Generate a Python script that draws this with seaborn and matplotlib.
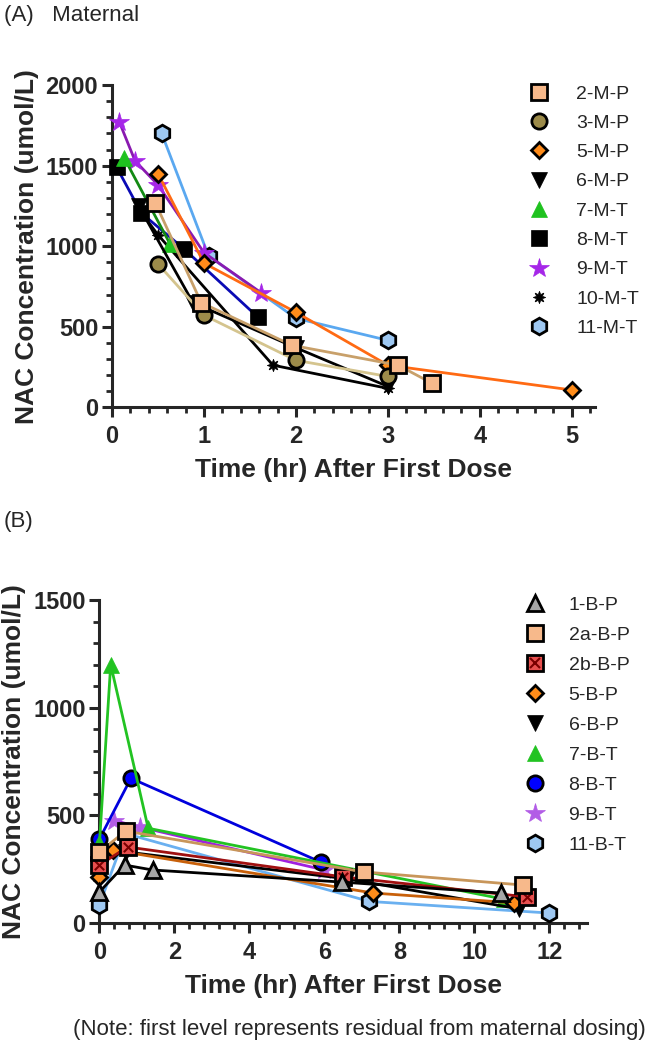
import pandas as pd
import seaborn as sns
import matplotlib.pyplot as plt
from matplotlib.lines import Line2D
from matplotlib.ticker import MultipleLocator

sns.set_theme(style="ticks")
plt.rcParams["font.family"] = ["Liberation Sans", "DejaVu Sans"]

# ---------------- Panel A: maternal levels ----------------
t_2mp = [0.47, 0.97, 1.96, 3.11, 3.48]
c_2mp = [1270, 650, 385, 262, 150]
t_3mp = [0.5, 1.0, 2.0, 3.0]
c_3mp = [890, 572, 292, 192]
t_5mp = [0.5, 1.0, 2.0, 3.0, 5.0]
c_5mp = [1450, 895, 590, 262, 108]
t_6mp = [0.29, 0.88, 2.0, 3.0]
c_6mp = [1250, 650, 370, 130]
t_7mt = [0.13, 0.63]
c_7mt = [1550, 1015]
t_8mt = [0.05, 0.32, 0.78, 1.59]
c_8mt = [1490, 1205, 985, 558]
t_9mt = [0.08, 0.25, 0.5, 1.0, 1.62]
c_9mt = [1770, 1530, 1380, 960, 712]
t_10mt = [0.33, 0.5, 1.75, 3.0]
c_10mt = [1200, 1070, 262, 118]
t_11mt = [0.54, 1.05, 2.0, 3.0]
c_11mt = [1700, 940, 553, 416]

maternal_labels = ["2-M-P", "3-M-P", "5-M-P", "6-M-P", "7-M-T",
                   "8-M-T", "9-M-T", "10-M-T", "11-M-T"]
maternal_t = [t_2mp, t_3mp, t_5mp, t_6mp, t_7mt, t_8mt, t_9mt, t_10mt, t_11mt]
maternal_c = [c_2mp, c_3mp, c_5mp, c_6mp, c_7mt, c_8mt, c_9mt, c_10mt, c_11mt]

# ---------------- Panel B: baby levels ----------------
t_1bp = [0.0, 0.67, 1.42, 6.46, 10.7]
c_1bp = [144, 269, 246, 190, 139]
t_2abp = [0.0, 0.7, 7.05, 11.3]
c_2abp = [330, 427, 237, 176]
t_2bbp = [0.0, 0.75, 6.5, 11.4]
c_2bbp = [269, 353, 214, 121]
t_5bp = [0.0, 0.35, 7.3, 11.07]
c_5bp = [214, 339, 139, 93]
t_6bp = [0.0, 0.7, 6.6, 11.2]
c_6bp = [300, 330, 205, 65]
t_7bt = [0.0, 0.3, 1.3, 10.8]
c_7bt = [370, 1200, 440, 110]
t_8bt = [0.0, 0.84, 5.9]
c_8bt = [390, 672, 283]
t_9bt = [0.4, 1.07, 6.0]
c_9bt = [475, 446, 246]
t_11bt = [0.0, 0.7, 7.2, 12.0]
c_11bt = [84, 415, 100, 46]

baby_labels = ["1-B-P", "2a-B-P", "2b-B-P", "5-B-P", "6-B-P",
               "7-B-T", "8-B-T", "9-B-T", "11-B-T"]
baby_t = [t_1bp, t_2abp, t_2bbp, t_5bp, t_6bp, t_7bt, t_8bt, t_9bt, t_11bt]
baby_c = [c_1bp, c_2abp, c_2bbp, c_5bp, c_6bp, c_7bt, c_8bt, c_9bt, c_11bt]

# styles: marker, size, face, edge, line colour
peach = "#f7b98b"
lightblue = "#9ec8f2"
maternal_style = [
    ("s", 11, peach, "black", "#c8a06a"),
    ("o", 11, "#9c8b4a", "black", "#d4c48e"),
    ("D", 8.5, "#ff8c1a", "black", "#ff6a13"),
    ("v", 11, "black", "black", "black"),
    ("^", 12, "#1fc21f", "#1fc21f", "#138a13"),
    ("s", 11, "black", "black", "#0a0ab4"),
    ("*", 15, "#a526e8", "#a526e8", "#8a1ab0"),
    ((8, 1, 0), 9, "black", "black", "black"),
    ("h", 12, lightblue, "black", "#5aa8f0"),
]
baby_style = [
    ("^", 11, "#a6a6a6", "black", "black"),
    ("s", 12, peach, "black", "#c8965a"),
    ("s", 11, "#e8504f", "black", "#a01010"),
    ("D", 8.5, "#ff8c1a", "black", "#c8600a"),
    ("v", 11, "black", "black", "black"),
    ("^", 12, "#22c322", "#22c322", "#22c322"),
    ("o", 11, "#0000ff", "black", "#0000dd"),
    ("*", 15, "#b25ce6", "#b25ce6", "#a020e0"),
    ("h", 12, lightblue, "black", "#6ab0f0"),
]

fig = plt.figure(figsize=(6.63, 10.5), dpi=100)
axA = fig.add_axes([0.169, 0.612, 0.728, 0.307])
axB = fig.add_axes([0.150, 0.121, 0.735, 0.3075])


def draw_panel(ax, labels, times, concs, styles, cross_label=None):
    handles = []
    n = len(labels)
    for i, (lab, t, c, (mk, ms, fc, ec, lc)) in enumerate(zip(labels, times, concs, styles)):
        df = pd.DataFrame({"t": t, "c": c})
        z = 3 + (n - i) * 0.1  # first data set on top
        mew = 2.0 if ec != fc else 0.5
        sns.lineplot(data=df, x="t", y="c", ax=ax, color=lc, linewidth=2.0,
                     marker=mk, markersize=ms, markerfacecolor=fc,
                     markeredgecolor=ec, markeredgewidth=mew,
                     estimator=None, clip_on=False, zorder=z)
        h = Line2D([], [], linestyle="none", marker=mk, markersize=ms,
                   markerfacecolor=fc, markeredgecolor=ec, markeredgewidth=mew)
        if lab == cross_label:
            sns.scatterplot(data=df, x="t", y="c", ax=ax, marker="x", s=45,
                            color="#7a0000", linewidth=1.5, zorder=z + 0.05,
                            clip_on=False)
            hx = Line2D([], [], linestyle="none", marker="x", markersize=6.5,
                        color="#7a0000", markeredgewidth=1.5)
            h = (h, hx)
        handles.append(h)
    return handles


hA = draw_panel(axA, maternal_labels, maternal_t, maternal_c, maternal_style)
hB = draw_panel(axB, baby_labels, baby_t, baby_c, baby_style, cross_label="2b-B-P")

# axes formatting
axA.set_xlim(0, 5.25)
axA.set_ylim(0, 2000)
axA.xaxis.set_major_locator(MultipleLocator(1))
axA.xaxis.set_minor_locator(MultipleLocator(0.2))
axA.yaxis.set_major_locator(MultipleLocator(500))
axA.yaxis.set_minor_locator(MultipleLocator(100))

axB.set_xlim(0, 13)
axB.set_ylim(0, 1500)
axB.xaxis.set_major_locator(MultipleLocator(2))
axB.xaxis.set_minor_locator(MultipleLocator(0.4))
axB.yaxis.set_major_locator(MultipleLocator(500))
axB.yaxis.set_minor_locator(MultipleLocator(100))

for ax in (axA, axB):
    sns.despine(ax=ax)
    for sp in ("left", "bottom"):
        ax.spines[sp].set_linewidth(2.2)
    ax.tick_params(which="major", length=7, width=2.2, direction="out",
                   labelsize=17, pad=3)
    ax.tick_params(axis="x", which="major", pad=6)
    ax.tick_params(which="minor", length=4, width=2.0, direction="out")
    for lbl in ax.get_xticklabels() + ax.get_yticklabels():
        lbl.set_fontweight("bold")
    ax.set_xlabel("Time (hr) After First Dose", fontsize=19, fontweight="bold", labelpad=7)
    ax.set_ylabel("NAC Concentration (umol/L)", fontsize=19, fontweight="bold", labelpad=5)

axA.legend(hA, maternal_labels, loc="upper left", bbox_to_anchor=(0.861, 1.0),
           frameon=False, fontsize=14, labelspacing=0.6, handletextpad=1.3,
           borderaxespad=0, borderpad=0, handlelength=1.2)
axB.legend(hB, baby_labels, loc="upper left", bbox_to_anchor=(0.869, 1.012),
           frameon=False, fontsize=14, labelspacing=0.64, handletextpad=1.15,
           borderaxespad=0, borderpad=0, handlelength=1.2)

fig.text(0.006, 1 - 16 / 1050, "(A)   Maternal", fontsize=16, va="center", ha="left")
fig.text(0.006, 1 - 522 / 1050, "(B)", fontsize=16, va="center", ha="left")
fig.text(0.11, 1 - 1030 / 1050,
         "(Note: first level represents residual from maternal dosing)",
         fontsize=16, va="center", ha="left")

fig.savefig("out.png", dpi=100)
